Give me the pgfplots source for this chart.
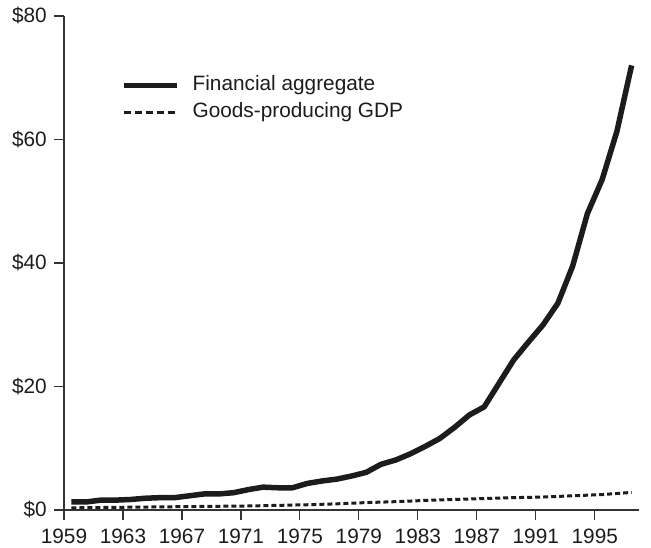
\documentclass[border=0pt]{standalone}
\usepackage{fontspec}
\setmainfont{Liberation Sans}
\usepackage{pgfplots}
\pgfplotsset{compat=1.18}
\definecolor{ink}{HTML}{1C1C1C}
\definecolor{axc}{HTML}{333333}
\newcommand{\bigf}{\fontsize{20.8bp}{25bp}\selectfont}
\begin{document}
\begin{tikzpicture}[font=\bigf]
\useasboundingbox (-64bp,-38bp) rectangle (587bp,510bp);
\begin{axis}[
  at={(0,0)}, anchor=south west,
  scale only axis, width=575bp, height=494bp,
  xmin=1959, xmax=1998, ymin=0, ymax=80,
  axis x line*=bottom, axis y line*=left,
  axis line style={axc, line width=1.1bp},
  every tick/.style={axc, line width=1.2bp},
  xtick align=outside, ytick align=outside,
  major tick length=10bp,
  xtick={1959,1963,1967,1971,1975,1979,1983,1987,1991,1995},
  xticklabels={1959,1963,1967,1971,1975,1979,1983,1987,1991,1995},
  ytick={0,20,40,60,80},
  yticklabels={\$0,\$20,\$40,\$60,\$80},
  tick label style={text=ink, font=\bigf},
  xticklabel style={inner sep=0pt, anchor=north, yshift=-9bp},
  yticklabel style={inner sep=0pt, anchor=east, xshift=-7bp},
  clip=false,
  legend style={at={(axis description cs:0.099,0.880)}, anchor=north west,
    draw=none, fill=none, inner sep=0pt, row sep=7bp, column sep=13bp,
    nodes={inner sep=0pt, text height=15bp, text depth=5bp, text=ink, font=\bigf}},
  legend cell align=left,
  legend image code/.code={\draw[#1] (0bp,0bp) -- (53bp,0bp);},
]
\addlegendimage{ink, line width=5.5bp}
\addlegendentry{Financial aggregate}
\addlegendimage{ink, line width=2.5bp, dash pattern=on 7bp off 4bp}
\addlegendentry{Goods-producing GDP}

\addplot[forget plot, ink, line width=5.5bp, line join=round] coordinates {
(1959.5,1.3) (1960.5,1.3) (1961.5,1.6) (1962.5,1.6) (1963.5,1.7)
(1964.5,1.9) (1965.5,2.0) (1966.5,2.0) (1967.5,2.3) (1968.5,2.6)
(1969.5,2.6) (1970.5,2.8) (1971.5,3.3) (1972.5,3.7) (1973.5,3.6)
(1974.5,3.6) (1975.5,4.3) (1976.5,4.7) (1977.5,5.0) (1978.5,5.5)
(1979.5,6.1) (1980.5,7.4) (1981.5,8.1) (1982.5,9.1) (1983.5,10.3)
(1984.5,11.6) (1985.5,13.4) (1986.5,15.4) (1987.5,16.7) (1988.5,20.5)
(1989.5,24.3) (1990.5,27.2) (1991.5,30.0) (1992.5,33.5) (1993.5,39.5)
(1994.5,48.0) (1995.5,53.5) (1996.5,61.3) (1997.5,72.0)
};
\addplot[forget plot, ink, line width=3.0bp, dash pattern=on 5bp off 3bp] coordinates {
(1959.5,0.35) (1961.5,0.4) (1963.5,0.45) (1965.5,0.5) (1967.5,0.55)
(1969.5,0.6) (1971.5,0.65) (1973.5,0.75) (1975.5,0.85) (1977.5,1.0)
(1979.5,1.2) (1981.5,1.35) (1983.5,1.55) (1985.5,1.7) (1987.5,1.85)
(1989.5,2.0) (1991.5,2.1) (1993.5,2.3) (1995.5,2.5) (1997.5,2.85)
};
\end{axis}
\end{tikzpicture}
\end{document}
